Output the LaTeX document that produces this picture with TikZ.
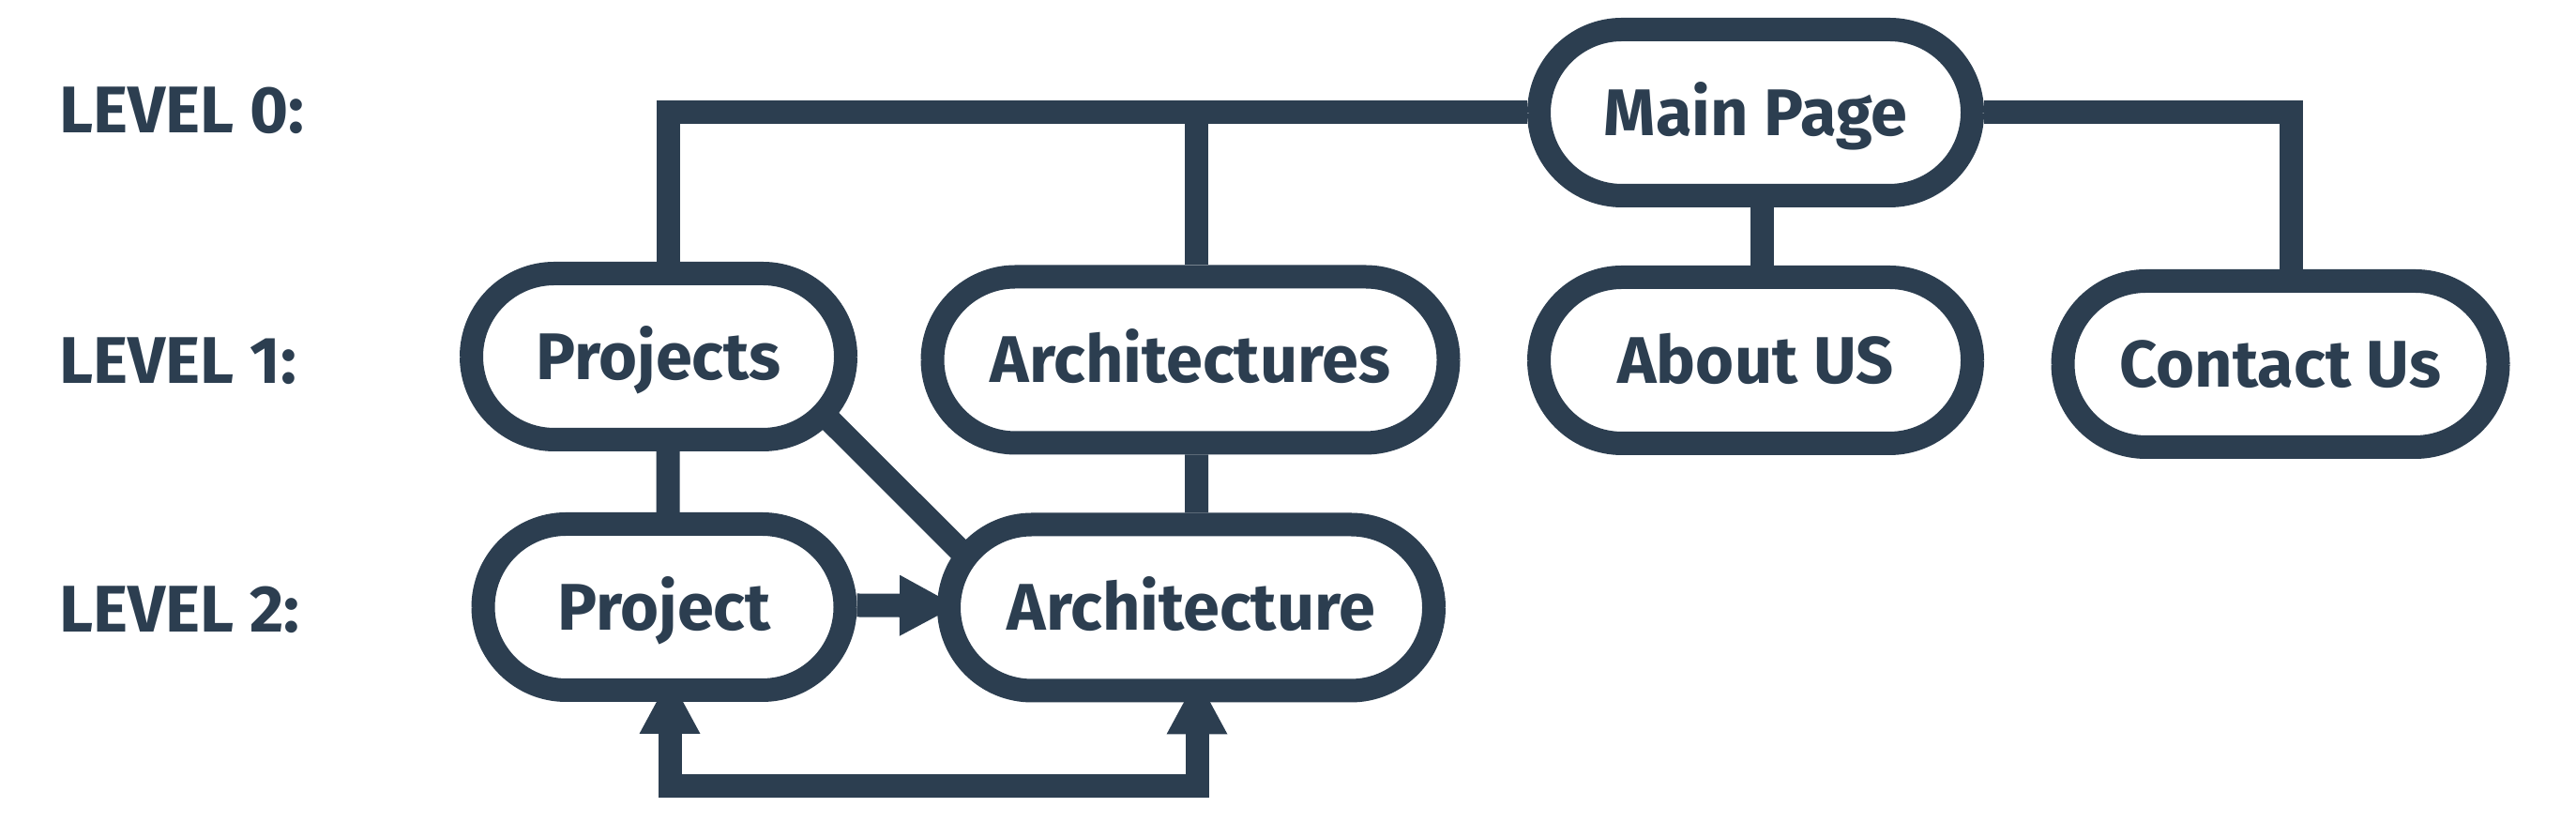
\documentclass[tikz,border=0pt]{standalone}
\usepackage{fontspec}
\setmainfont{Fira Sans}
\usepackage{xcolor}
\usepackage{tikz}
\usetikzlibrary{arrows.meta,positioning,backgrounds,calc}
\definecolor{ink}{HTML}{2C3E50}

\begin{document}
\begin{tikzpicture}[every node/.style={font=\fontsize{20}{24}\selectfont\bfseries, text=ink},
    page/.style={draw=ink, fill=white, line width=2.5mm, rounded corners=8.85mm,
                 minimum height=17.7mm, inner sep=0pt, text height=13.8pt, text depth=0pt},
    link/.style={draw=ink, line width=2.5mm},
    >={Triangle[length=6mm, width=6.5mm, line width=0pt 0]}]
  \useasboundingbox (0,0) rectangle (27.46,8.93);
  % ---- level labels
  \foreach \lvl/\y in {0/7.76,1/5.09,2/2.44}
    \node[anchor=west, inner sep=0pt, text height=13.8pt, text depth=0pt] (lvl\lvl) at (0.63,\y) {LEVEL \lvl:};
  % ---- level 0
  \node[page, minimum width=46.2mm] (main) at (18.715,7.73) {Main Page};
  % ---- level 1
  \node[page, minimum width=39.9mm] (projs) at (7.02,5.13) {Projects};
  \node[page, minimum width=55.0mm] (archs) at (12.69,5.095) {Architectures};
  \node[page, minimum width=46.2mm] (about) at (18.715,5.09) {About US};
  \node[page, minimum width=46.4mm] (contact) at (24.31,5.05) {Contact Us};
  % ---- level 2
  \node[page, minimum width=38.6mm] (proj) at (7.08,2.46) {Project};
  \node[page, minimum width=51.7mm] (arch) at (12.70,2.455) {Architecture};
  % ---- links, under the pages
  \begin{scope}[on background layer]
    \fill[white] (0,0) rectangle (27.46,8.93);
    \draw[link] (main.west) -| ([xshift=1mm]projs.north);
    \draw[link] ([xshift=0.6mm]archs.north) |- (main.west);
    \draw[link] ([xshift=0.7mm]main.south) -- ([xshift=0.7mm]about.north);
    \draw[link] (main.east) -| ([xshift=1.1mm]contact.north);
    \draw[link] ([xshift=1mm]projs.south) -- ([xshift=0.4mm]proj.north);
    \draw[link] ([xshift=0.65mm]archs.south) -- ([xshift=0.55mm]arch.north);
    \draw[link] ([xshift=-9.75mm]projs.east) -- ([xshift=8.55mm]arch.west);
    \draw[link, ->, shorten >=-2mm] ([yshift=0.2mm]proj.east) -- ([yshift=0.2mm]arch.west);
    \draw[link, <->, shorten <=-2.6mm, shorten >=-2.6mm] ([xshift=0.6mm]proj.south)
      -- ++(0,-0.9) -| ([xshift=0.6mm]arch.south);
  \end{scope}
\end{tikzpicture}
\end{document}
